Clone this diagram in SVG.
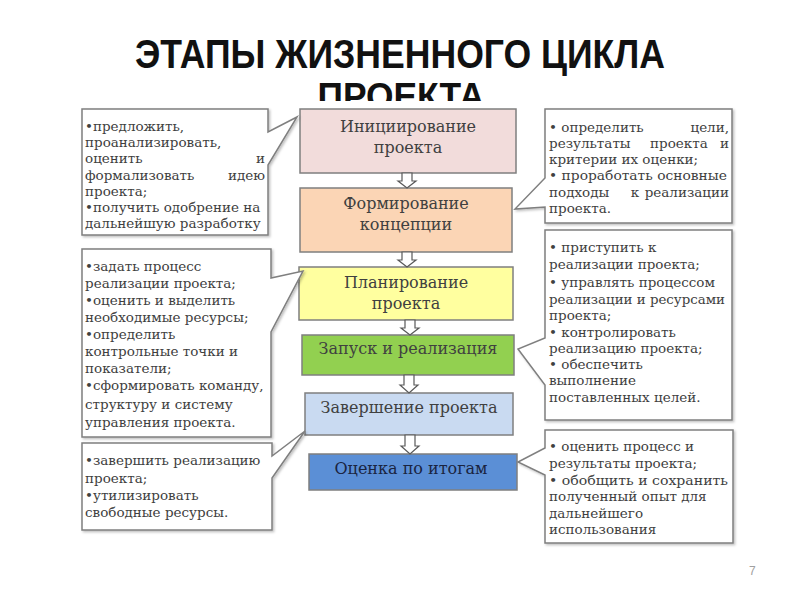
<svg xmlns="http://www.w3.org/2000/svg" width="800" height="600" viewBox="0 0 800 600">
<style>
.title{font-family:"Liberation Sans",Arial,sans-serif;font-weight:bold;font-size:40px;fill:#111;text-anchor:middle}
.stage{stroke:#7f7f7f;stroke-width:1.5}
.st{font-family:"DejaVu Serif","Liberation Serif",serif;font-size:16px;fill:#404040;text-anchor:middle}
.call{fill:#fff;stroke:#7f7f7f;stroke-width:1.5;stroke-linejoin:miter}
.ct{font-family:"DejaVu Serif","Liberation Serif",serif;font-size:13.5px;fill:#404040}
.r{text-anchor:end}
.m{text-anchor:middle}
.arr{fill:#fff;stroke:#595959;stroke-width:1.2}
.pg{font-family:"Liberation Sans",Arial,sans-serif;font-size:12px;fill:#a0a0a0}
</style>
<defs>
<clipPath id="tclip"><rect x="0" y="0" width="800" height="101"/></clipPath>
<filter id="sh" x="-5%" y="-5%" width="115%" height="115%"><feDropShadow dx="1.5" dy="1.5" stdDeviation="1" flood-color="#000" flood-opacity="0.25"/></filter>
</defs>

<g id="title">
<text class="title" x="400" y="68" textLength="530" lengthAdjust="spacingAndGlyphs">ЭТАПЫ ЖИЗНЕННОГО ЦИКЛА</text>
<text class="title" x="401" y="109" style="font-size:37px" textLength="167" lengthAdjust="spacingAndGlyphs" clip-path="url(#tclip)">ПРОЕКТА</text>
</g>

<g id="stage1"><rect class="stage" x="300" y="109" width="216" height="64" fill="#f2dcdb"/>
<text class="st" x="408" y="132">Инициирование</text><text class="st" x="408" y="153">проекта</text></g>
<g id="stage2"><rect class="stage" x="300" y="188" width="212" height="64" fill="#fbd5b5"/>
<text class="st" x="406" y="209">Формирование</text><text class="st" x="406" y="230">концепции</text></g>
<g id="stage3"><rect class="stage" x="299" y="267" width="214" height="53" fill="#ffff9f"/>
<text class="st" x="406" y="288">Планирование</text><text class="st" x="406" y="309">проекта</text></g>
<g id="stage4"><rect class="stage" x="302" y="335" width="212" height="40" fill="#92d050"/>
<text class="st" x="408" y="354">Запуск и реализация</text></g>
<g id="stage5"><rect class="stage" x="305" y="393" width="208" height="42" fill="#c9daf1"/>
<text class="st" x="409" y="413">Завершение проекта</text></g>
<g id="stage6"><rect class="stage" x="309" y="454" width="208" height="36" fill="#5b8fd6"/>
<text class="st" x="411" y="474" style="fill:#1a2440">Оценка по итогам</text></g>

<g id="connectors">
<path class="arr" d="M402,173 V181 H398 L407,188 L416,181 H412 V173 Z"/>
<path class="arr" d="M402,252 V260 H398 L407,267 L416,260 H412 V252 Z"/>
<path class="arr" d="M405,320 V328 H401 L410,335 L419,328 H415 V320 Z"/>
<path class="arr" d="M404,375 V385 H400 L409,393 L418,385 H414 V375 Z"/>
<path class="arr" d="M405,435 V446 H401 L410,454 L419,446 H415 V435 Z"/>
</g>

<g id="note-left-1">
<path class="call" filter="url(#sh)" d="M82,109 H268 V132 L297,117 L268,165 V235 H82 Z"/>
<text class="ct" x="85" y="131">•предложить,</text>
<text class="ct" x="85" y="147">проанализировать,</text>
<text class="ct" x="85" y="163">оценить</text><text class="ct r" x="265" y="163">и</text>
<text class="ct" x="85" y="180">формализовать</text><text class="ct r" x="265" y="180">идею</text>
<text class="ct" x="85" y="196">проекта;</text>
<text class="ct" x="85" y="212">•получить одобрение на</text>
<text class="ct" x="85" y="228">дальнейшую разработку</text>
</g>

<g id="note-left-2">
<path class="call" filter="url(#sh)" d="M82,249 H271 V278 L303,271 L271,332 V437 H82 Z"/>
<text class="ct" x="85" y="271">•задать процесс</text>
<text class="ct" x="85" y="288">реализации проекта;</text>
<text class="ct" x="85" y="305">•оценить и выделить</text>
<text class="ct" x="85" y="322">необходимые ресурсы;</text>
<text class="ct" x="85" y="339">•определить</text>
<text class="ct" x="85" y="356">контрольные точки и</text>
<text class="ct" x="85" y="373">показатели;</text>
<text class="ct" x="85" y="390">•сформировать команду,</text>
<text class="ct" x="85" y="409">структуру и систему</text>
<text class="ct" x="85" y="427">управления проекта.</text>
</g>

<g id="note-left-3">
<path class="call" filter="url(#sh)" d="M82,443 H272 V456 L305,431 L272,478 V530 H82 Z"/>
<text class="ct" x="85" y="465">•завершить реализацию</text>
<text class="ct" x="85" y="483">проекта;</text>
<text class="ct" x="85" y="500">•утилизировать</text>
<text class="ct" x="85" y="517">свободные ресурсы.</text>
</g>

<g id="note-right-1">
<path class="call" filter="url(#sh)" d="M545,109 H732 V223 H545 V207 L515,209 L545,178 Z"/>
<text class="ct" x="549" y="132">•  определить</text><text class="ct r" x="729" y="132">цели,</text>
<text class="ct" x="549" y="148">результаты</text><text class="ct" x="650" y="148">проекта</text><text class="ct r" x="729" y="148">и</text>
<text class="ct" x="549" y="164">критерии их оценки;</text>
<text class="ct" x="549" y="180" textLength="178" lengthAdjust="spacingAndGlyphs">•  проработать основные</text>
<text class="ct" x="549" y="197">подходы</text><text class="ct m" x="635" y="197">к</text><text class="ct r" x="729" y="197">реализации</text>
<text class="ct" x="549" y="213">проекта.</text>
</g>

<g id="note-right-2">
<path class="call" filter="url(#sh)" d="M545,230 H732 V420 H545 V385 L518,349 L545,338 Z"/>
<text class="ct" x="549" y="252">•  приступить к</text>
<text class="ct" x="549" y="269">реализации проекта;</text>
<text class="ct" x="549" y="287">•  управлять процессом</text>
<text class="ct" x="549" y="304" textLength="176" lengthAdjust="spacingAndGlyphs">реализации и ресурсами</text>
<text class="ct" x="549" y="320">проекта;</text>
<text class="ct" x="549" y="337">•  контролировать</text>
<text class="ct" x="549" y="353">реализацию проекта;</text>
<text class="ct" x="549" y="369">•  обеспечить</text>
<text class="ct" x="549" y="385">выполнение</text>
<text class="ct" x="549" y="402">поставленных целей.</text>
</g>

<g id="note-right-3">
<path class="call" filter="url(#sh)" d="M545,430 H733 V543 H545 V475 L518,462 L545,448 Z"/>
<text class="ct" x="549" y="451">•  оценить процесс и</text>
<text class="ct" x="549" y="468">результаты проекта;</text>
<text class="ct" x="549" y="485" textLength="179" lengthAdjust="spacingAndGlyphs">•  обобщить и сохранить</text>
<text class="ct" x="549" y="501">полученный опыт для</text>
<text class="ct" x="549" y="518">дальнейшего</text>
<text class="ct" x="549" y="534">использования</text>
</g>

<text class="pg" x="749" y="575">7</text>
</svg>
